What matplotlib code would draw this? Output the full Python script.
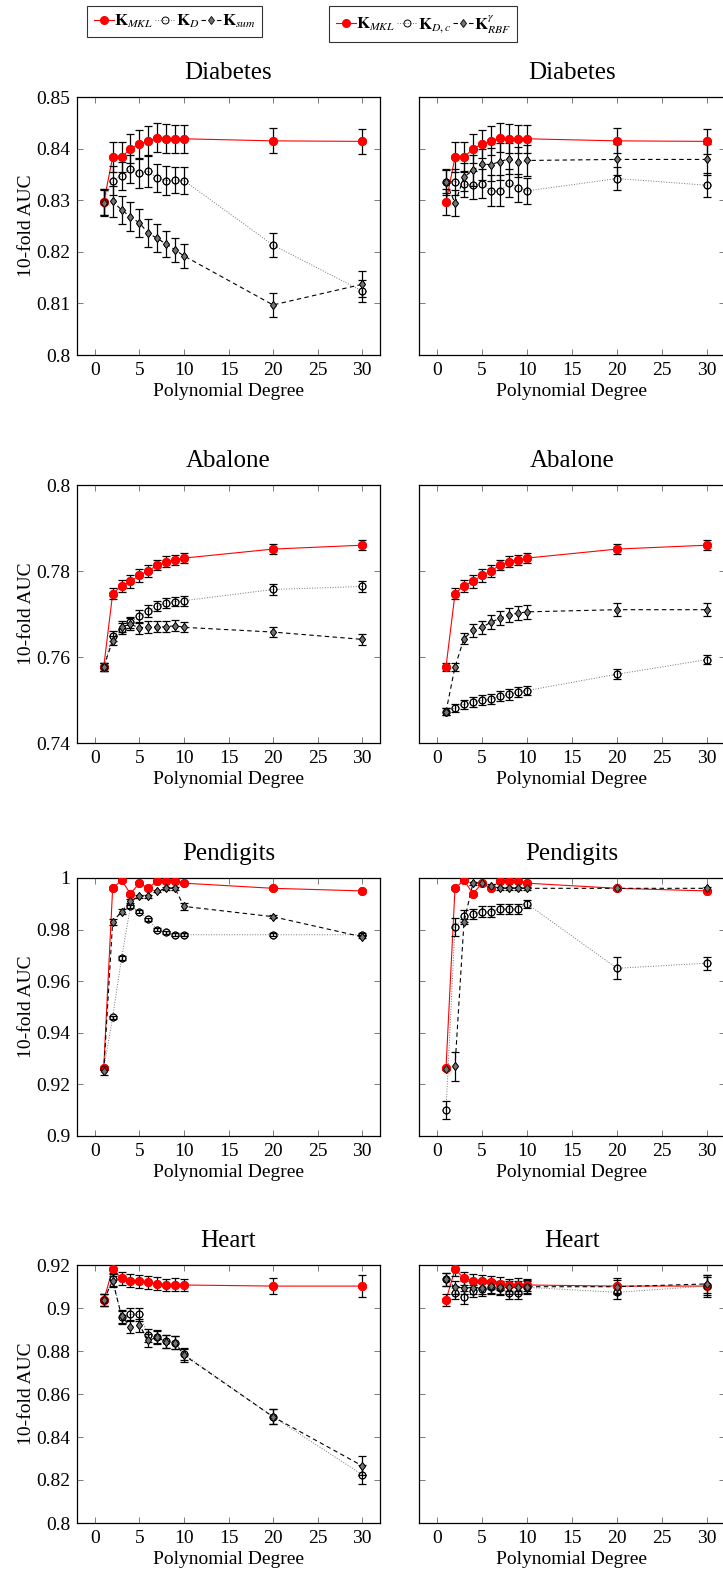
import matplotlib.pyplot as plt
from matplotlib.lines import Line2D
from matplotlib.ticker import FuncFormatter, MultipleLocator

plt.rcParams['font.family'] = ['Liberation Serif', 'DejaVu Serif']
plt.rcParams['mathtext.fontset'] = 'stix'

degrees = [1, 2, 3, 4, 5, 6, 7, 8, 9, 10, 20, 30]
datasets = ['Diabetes', 'Abalone', 'Pendigits', 'Heart']

# --- Diabetes ---
diabetes_mkl = [0.8296, 0.8383, 0.8383, 0.8400, 0.8409, 0.8415, 0.8421, 0.8419, 0.8419, 0.8419, 0.8415, 0.8414]
diabetes_mkl_err = [0.0025, 0.0029, 0.0029, 0.0028, 0.0028, 0.0028, 0.0028, 0.0028, 0.0027, 0.0027, 0.0024, 0.0024]
diabetes_kd = [0.8297, 0.8338, 0.8347, 0.8361, 0.8352, 0.8356, 0.8343, 0.8338, 0.8339, 0.8338, 0.8213, 0.8124]
diabetes_kd_err = [0.0025, 0.0028, 0.0027, 0.0027, 0.0028, 0.0030, 0.0028, 0.0028, 0.0026, 0.0026, 0.0024, 0.0022]
diabetes_ksum = [0.8295, 0.8298, 0.8281, 0.8268, 0.8256, 0.8236, 0.8226, 0.8215, 0.8204, 0.8192, 0.8097, 0.8137]
diabetes_ksum_err = [0.0025, 0.0030, 0.0028, 0.0028, 0.0027, 0.0027, 0.0027, 0.0025, 0.0023, 0.0023, 0.0023, 0.0025]
diabetes_kdc = [0.8336, 0.8336, 0.8331, 0.8329, 0.8332, 0.8318, 0.8318, 0.8334, 0.8324, 0.8318, 0.8342, 0.8329]
diabetes_kdc_err = [0.0025, 0.0025, 0.0025, 0.0027, 0.0028, 0.0030, 0.0030, 0.0027, 0.0027, 0.0025, 0.0023, 0.0023]
diabetes_rbf = [0.8336, 0.8294, 0.8345, 0.8358, 0.8370, 0.8369, 0.8375, 0.8380, 0.8374, 0.8377, 0.8379, 0.8379]
diabetes_rbf_err = [0.0023, 0.0025, 0.0028, 0.0030, 0.0030, 0.0032, 0.0035, 0.0030, 0.0030, 0.0030, 0.0030, 0.0030]

# --- Abalone ---
abalone_mkl = [0.7577, 0.7747, 0.7766, 0.7776, 0.7790, 0.7800, 0.7814, 0.7822, 0.7826, 0.7830, 0.7851, 0.7860]
abalone_mkl_err = [0.0009, 0.0013, 0.0014, 0.0015, 0.0015, 0.0014, 0.0012, 0.0012, 0.0011, 0.0012, 0.0012, 0.0012]
abalone_kd = [0.7577, 0.7649, 0.7666, 0.7681, 0.7695, 0.7707, 0.7718, 0.7726, 0.7729, 0.7731, 0.7757, 0.7764]
abalone_kd_err = [0.0009, 0.0012, 0.0013, 0.0013, 0.0015, 0.0013, 0.0012, 0.0012, 0.0011, 0.0012, 0.0012, 0.0012]
abalone_ksum = [0.7577, 0.7638, 0.7670, 0.7676, 0.7668, 0.7670, 0.7670, 0.7670, 0.7673, 0.7669, 0.7658, 0.7641]
abalone_ksum_err = [0.0009, 0.0010, 0.0013, 0.0014, 0.0014, 0.0014, 0.0013, 0.0013, 0.0013, 0.0012, 0.0012, 0.0012]
abalone_kdc = [0.7473, 0.7481, 0.7490, 0.7495, 0.7500, 0.7502, 0.7509, 0.7513, 0.7519, 0.7522, 0.7560, 0.7594]
abalone_kdc_err = [0.0008, 0.0010, 0.0010, 0.0011, 0.0011, 0.0011, 0.0011, 0.0012, 0.0012, 0.0011, 0.0011, 0.0010]
abalone_rbf = [0.7473, 0.7577, 0.7643, 0.7662, 0.7669, 0.7681, 0.7690, 0.7698, 0.7702, 0.7705, 0.7710, 0.7710]
abalone_rbf_err = [0.0008, 0.0010, 0.0012, 0.0015, 0.0015, 0.0016, 0.0016, 0.0016, 0.0016, 0.0016, 0.0015, 0.0015]

# --- Pendigits ---
pendigits_mkl = [0.9263, 0.9960, 0.9991, 0.9939, 0.9980, 0.9960, 0.9990, 0.9990, 0.9990, 0.9980, 0.9960, 0.9950]
pendigits_mkl_err = [0.0004] * 12
pendigits_kd = [0.9260, 0.9460, 0.9690, 0.9890, 0.9870, 0.9840, 0.9800, 0.9790, 0.9780, 0.9780, 0.9780, 0.9780]
pendigits_kd_err = [0.0006] * 12
pendigits_ksum = [0.9253, 0.9830, 0.9870, 0.9910, 0.9930, 0.9930, 0.9950, 0.9960, 0.9960, 0.9890, 0.9850, 0.9772]
pendigits_ksum_err = [0.0015, 0.0012, 0.0008, 0.0007, 0.0006, 0.0006, 0.0005, 0.0005, 0.0005, 0.0013, 0.0006, 0.0006]
pendigits_kdc = [0.9100, 0.9810, 0.9852, 0.9860, 0.9870, 0.9870, 0.9880, 0.9880, 0.9880, 0.9900, 0.9650, 0.9670]
pendigits_kdc_err = [0.0035, 0.0035, 0.0023, 0.0020, 0.0020, 0.0020, 0.0018, 0.0018, 0.0018, 0.0015, 0.0043, 0.0025]
pendigits_rbf = [0.9260, 0.9270, 0.9830, 0.9980, 0.9980, 0.9970, 0.9960, 0.9960, 0.9960, 0.9960, 0.9960, 0.9960]
pendigits_rbf_err = [0.0006, 0.0055, 0.0010, 0.0006, 0.0006, 0.0006, 0.0005, 0.0005, 0.0005, 0.0005, 0.0005, 0.0005]

# --- Heart ---
heart_mkl = [0.9037, 0.9180, 0.9138, 0.9127, 0.9125, 0.9119, 0.9112, 0.9107, 0.9108, 0.9107, 0.9102, 0.9102]
heart_mkl_err = [0.003, 0.003, 0.003, 0.003, 0.003, 0.003, 0.003, 0.003, 0.003, 0.003, 0.0037, 0.0052]
heart_kd = [0.9037, 0.9133, 0.8956, 0.8970, 0.8970, 0.8874, 0.8866, 0.8846, 0.8838, 0.8786, 0.8494, 0.8225]
heart_kd_err = [0.003, 0.003, 0.003, 0.003, 0.003, 0.003, 0.003, 0.003, 0.003, 0.003, 0.0035, 0.0045]
heart_ksum = [0.9037, 0.9127, 0.8962, 0.8913, 0.8920, 0.8850, 0.8863, 0.8843, 0.8838, 0.8781, 0.8494, 0.8266]
heart_ksum_err = [0.003, 0.003, 0.003, 0.003, 0.003, 0.003, 0.003, 0.003, 0.003, 0.003, 0.0035, 0.0045]
heart_kdc = [0.9133, 0.9071, 0.9050, 0.9079, 0.9087, 0.9096, 0.9091, 0.9071, 0.9071, 0.9096, 0.9073, 0.9102]
heart_kdc_err = [0.003, 0.003, 0.003, 0.003, 0.003, 0.003, 0.003, 0.003, 0.003, 0.003, 0.003, 0.004]
heart_rbf = [0.9133, 0.9096, 0.9094, 0.9094, 0.9094, 0.9102, 0.9096, 0.9096, 0.9096, 0.9099, 0.9099, 0.9112]
heart_rbf_err = [0.003, 0.003, 0.003, 0.003, 0.003, 0.003, 0.003, 0.003, 0.003, 0.003, 0.003, 0.004]

y_limits = [(0.80, 0.85), (0.74, 0.80), (0.90, 1.00), (0.80, 0.92)]
y_steps = [0.01, 0.02, 0.02, 0.02]

left_series = [
    (diabetes_mkl, diabetes_mkl_err, diabetes_kd, diabetes_kd_err, diabetes_ksum, diabetes_ksum_err),
    (abalone_mkl, abalone_mkl_err, abalone_kd, abalone_kd_err, abalone_ksum, abalone_ksum_err),
    (pendigits_mkl, pendigits_mkl_err, pendigits_kd, pendigits_kd_err, pendigits_ksum, pendigits_ksum_err),
    (heart_mkl, heart_mkl_err, heart_kd, heart_kd_err, heart_ksum, heart_ksum_err),
]
right_series = [
    (diabetes_mkl, diabetes_mkl_err, diabetes_kdc, diabetes_kdc_err, diabetes_rbf, diabetes_rbf_err),
    (abalone_mkl, abalone_mkl_err, abalone_kdc, abalone_kdc_err, abalone_rbf, abalone_rbf_err),
    (pendigits_mkl, pendigits_mkl_err, pendigits_kdc, pendigits_kdc_err, pendigits_rbf, pendigits_rbf_err),
    (heart_mkl, heart_mkl_err, heart_kdc, heart_kdc_err, heart_rbf, heart_rbf_err),
]

# styles for the three curves in each panel
mkl_style = dict(color='red', marker='o', ms=5.5, mfc='red', mec='red', lw=0.8, ls='-')
open_style = dict(color='0.45', marker='o', ms=5, mfc='none', mec='black', mew=0.7, lw=0.7, ls=':')
diam_style = dict(color='black', marker='d', ms=4.5, mfc='0.45', mec='black', mew=0.6, lw=0.8, ls=(0, (4, 3)))

W, H = 723, 1570
fig = plt.figure(figsize=(W / 100, H / 100), dpi=100)

row_tops = [97, 485, 878, 1265]
ax_h = 258
col_lefts = [77, 419]
col_widths = [303, 306]


def fmt(v, pos):
    return '{:g}'.format(round(v, 3))


def draw(ax, series):
    m, me, a, ae, b, be = series
    for (vals, errs, st) in [(m, me, mkl_style), (a, ae, open_style), (b, be, diam_style)]:
        ax.plot(degrees, vals, **st, zorder=2)
        ax.errorbar(degrees, vals, yerr=errs, fmt='none', ecolor='black',
                    elinewidth=0.9, capsize=3, capthick=0.9, zorder=3)
        ax.plot(degrees, vals, ls='none', marker=st['marker'], ms=st['ms'],
                mfc=st['mfc'], mec=st['mec'], mew=st.get('mew', 1), zorder=4)


for r in range(4):
    for c in range(2):
        bottom = 1 - (row_tops[r] + ax_h) / H
        ax = fig.add_axes([col_lefts[c] / W, bottom, col_widths[c] / W, ax_h / H])
        draw(ax, left_series[r] if c == 0 else right_series[r])
        ax.set_xlim(-2, 32)
        ax.set_ylim(*y_limits[r])
        ax.xaxis.set_major_locator(MultipleLocator(5))
        ax.yaxis.set_major_locator(MultipleLocator(y_steps[r]))
        ax.yaxis.set_major_formatter(FuncFormatter(fmt))
        ax.tick_params(direction='in', top=True, right=True, length=4, width=0.6,
                       labelsize=14, color='0.4', pad=5)
        for sp in ax.spines.values():
            sp.set_linewidth(0.9)
        ax.set_title(datasets[r], fontsize=18, pad=13)
        ax.set_xlabel('Polynomial Degree', fontsize=14, labelpad=3)
        if c == 0:
            ax.set_ylabel('10-fold AUC', fontsize=14, labelpad=1)
        else:
            ax.tick_params(labelleft=False)


def handles(second, third):
    h = [Line2D([], [], **mkl_style), Line2D([], [], **open_style), Line2D([], [], **diam_style)]
    labels = [r'$\mathbf{K}_{MKL}$', second, third]
    return h, labels


leg_opts = dict(loc='upper left', ncol=3, fontsize=12, frameon=True, fancybox=False,
                edgecolor='black', handlelength=1.2, handletextpad=0.05,
                columnspacing=0.1, borderpad=0.4, borderaxespad=0)

h, l = handles(r'$\mathbf{K}_{D}$', r'$\mathbf{K}_{sum}$')
leg1 = fig.legend(h, l, bbox_to_anchor=(87 / W, 1 - 6 / H), **leg_opts)
leg1.get_frame().set_linewidth(0.8)

h, l = handles(r'$\mathbf{K}_{D,c}$', r'$\mathbf{K}_{RBF}^{\gamma}$')
leg2 = fig.legend(h, l, bbox_to_anchor=(329 / W, 1 - 6 / H), **leg_opts)
leg2.get_frame().set_linewidth(0.8)

fig.savefig('out.png', dpi=100)
